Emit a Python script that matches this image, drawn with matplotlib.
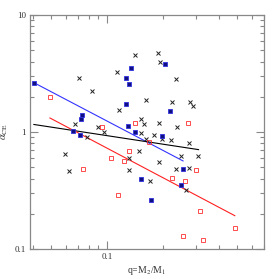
import numpy as np
import matplotlib
matplotlib.use("Agg")
import matplotlib.pyplot as plt
from matplotlib.ticker import FixedLocator, NullFormatter, FixedFormatter

plt.rcParams['font.family'] = ['Liberation Serif', 'DejaVu Serif']
plt.rcParams['mathtext.fontset'] = 'stix'

# blue filled squares
blue_q = [0.0405, 0.134, 0.126, 0.132, 0.126, 0.206, 0.218, 0.0734, 0.0727, 0.0659,
          0.0713, 0.129, 0.141, 0.1975, 0.153, 0.256, 0.251, 0.173]
blue_a = [2.64, 3.55, 2.88, 2.57, 1.75, 3.79, 1.51, 1.41, 1.28, 1.01,
          0.948, 1.125, 1.0, 0.93, 0.40, 0.483, 0.350, 0.261]

# red open squares
red_q = [0.0496, 0.0748, 0.0943, 0.142, 0.274, 0.169, 0.132, 0.1055, 0.124,
         0.224, 0.301, 0.263, 0.115, 0.316, 0.486, 0.257, 0.329]
red_a = [1.99, 0.480, 1.10, 1.20, 1.20, 0.821, 0.691, 0.600, 0.568,
         0.401, 0.471, 0.378, 0.289, 0.210, 0.150, 0.130, 0.120]

# black crosses
blk_q = [0.0710, 0.0827, 0.113, 0.142, 0.116, 0.189, 0.192, 0.236, 0.162, 0.223,
         0.280, 0.289, 0.0675, 0.0778, 0.0598, 0.0626, 0.0898, 0.0961, 0.152, 0.158,
         0.190, 0.239, 0.153, 0.163, 0.179, 0.1975, 0.221, 0.277, 0.149, 0.132,
         0.190, 0.132, 0.171, 0.250, 0.309, 0.236, 0.276, 0.267]
blk_a = [2.88, 2.24, 3.24, 4.58, 1.54, 4.71, 3.97, 2.82, 1.87, 1.79,
         1.79, 1.66, 1.16, 0.91, 0.651, 0.461, 1.10, 0.994, 1.29, 1.16,
         1.20, 1.10, 0.981, 0.866, 0.948, 0.866, 0.851, 0.809, 0.688, 0.600,
         0.551, 0.478, 0.381, 0.620, 0.620, 0.480, 0.490, 0.319]

# power-law fits alpha = A * q**b over a q range
fit_blue = dict(A=0.1815, b=-0.835, q0=0.0405, q1=0.2562)
fit_black = dict(A=0.532, b=-0.243, q0=0.0405, q1=0.3104)
fit_red = dict(A=0.105, b=-0.841, q0=0.0494, q1=0.486)

fig = plt.figure(figsize=(2.79, 2.79), dpi=100)
ax = fig.add_axes([30/279, 30/279, 234.3/279, 234/279])
ax.set_xscale('log')
ax.set_yscale('log')
ax.set_xlim(0.0386, 0.70)
ax.set_ylim(0.1, 10)

for fit, col in [(fit_blue, '#3333ff'), (fit_black, 'black'), (fit_red, '#ff2020')]:
    q = np.array([fit['q0'], fit['q1']])
    ax.plot(q, fit['A'] * q ** fit['b'], color=col, lw=0.8, zorder=2)

ax.plot(blk_q, blk_a, ls='none', marker='x', ms=2.2, mew=0.7, color='#222222', zorder=3)
ax.plot(red_q, red_a, ls='none', marker='s', ms=2.5, mew=0.6, mfc='none', mec='#ff3030', zorder=3)
ax.plot(blue_q, blue_a, ls='none', marker='s', ms=2.7, mew=0.6, mfc='#101080', mec='#3030e0', zorder=4)

frame_col = '#888888'
for s in ax.spines.values():
    s.set_color(frame_col)
    s.set_linewidth(0.9)

ax.xaxis.set_major_locator(FixedLocator([0.1]))
ax.xaxis.set_major_formatter(FixedFormatter(['0.1']))
ax.xaxis.set_minor_locator(FixedLocator([0.04, 0.05, 0.06, 0.07, 0.08, 0.09, 0.2, 0.3, 0.4, 0.5, 0.6, 0.7]))
ax.xaxis.set_minor_formatter(NullFormatter())
ax.yaxis.set_major_locator(FixedLocator([0.1, 1, 10]))
ax.yaxis.set_major_formatter(FixedFormatter(['0.1', '1', '10']))
ax.yaxis.set_minor_locator(FixedLocator([k * 10.0 ** e for e in (-1, 0) for k in range(2, 10)]))
ax.yaxis.set_minor_formatter(NullFormatter())

ax.tick_params(which='both', direction='in', top=True, right=True, color=frame_col, width=0.8,
               labelsize=6.5, labelcolor='#333333')
ax.tick_params(which='major', length=6, pad=3)
ax.tick_params(which='minor', length=3)

ax.set_xlabel(r'q=M$_{2}$/M$_{1}$', fontsize=7, color='#333333', labelpad=2)
ax.set_ylabel(r'$\alpha_{\rm CE}$', fontsize=7.5, color='#333333', labelpad=3)

fig.savefig('out.png', dpi=100)
